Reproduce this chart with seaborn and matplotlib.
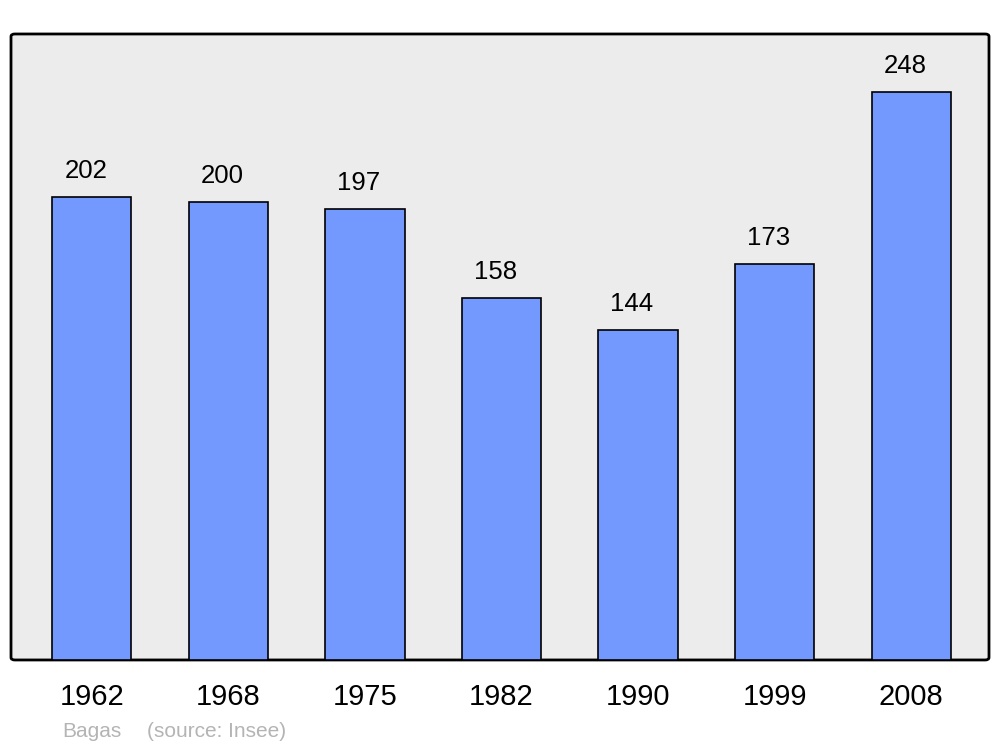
import matplotlib
matplotlib.use("Agg")
import matplotlib.pyplot as plt
from matplotlib.patches import FancyBboxPatch
import seaborn as sns
import pandas as pd

years = ["1962", "1968", "1975", "1982", "1990", "1999", "2008"]
population = [202, 200, 197, 158, 144, 173, 248]
town = "Bagas"
source = "(source: Insee)"

df = pd.DataFrame({"year": years, "pop": population})

sns.set_style("white")
plt.rcParams["font.family"] = ["Liberation Sans", "DejaVu Sans"]

fig = plt.figure(figsize=(10, 7.47), dpi=100)
ax = fig.add_axes([0.011, 0.1165, 0.978, 0.838])
ax.set_facecolor("none")

# rounded grey frame behind the bars
frame = FancyBboxPatch((0, 0), 1, 1, boxstyle="round,pad=0,rounding_size=0.004",
                       transform=ax.transAxes, facecolor="#ececec", edgecolor="black",
                       linewidth=2, zorder=0, clip_on=False)
ax.add_patch(frame)

sns.barplot(data=df, x="year", y="pop", ax=ax, color="#7399ff", width=0.579,
            edgecolor="black", linewidth=1.2, saturation=1, zorder=2)

# value labels sit a little left of the bar centre in the original
for i, v in enumerate(population):
    ax.text(i - 0.045, v + 8.3, str(v), ha="center", va="baseline", fontsize=18.5, color="black")

ax.set_xlim(-0.593, 6.571)
ax.set_ylim(0, 273.3)
ax.set_yticks([])
ax.set_xlabel("")
ax.set_ylabel("")
for s in ax.spines.values():
    s.set_visible(False)
ax.tick_params(axis="x", length=0, pad=16.5, labelsize=21, labelcolor="black")

fig.text(0.062, 1 - 737 / 747, town, fontsize=15, color="#b4b4b4", va="baseline")
fig.text(0.147, 1 - 737 / 747, source, fontsize=15, color="#b4b4b4", va="baseline")

fig.savefig("out.png", dpi=100)
